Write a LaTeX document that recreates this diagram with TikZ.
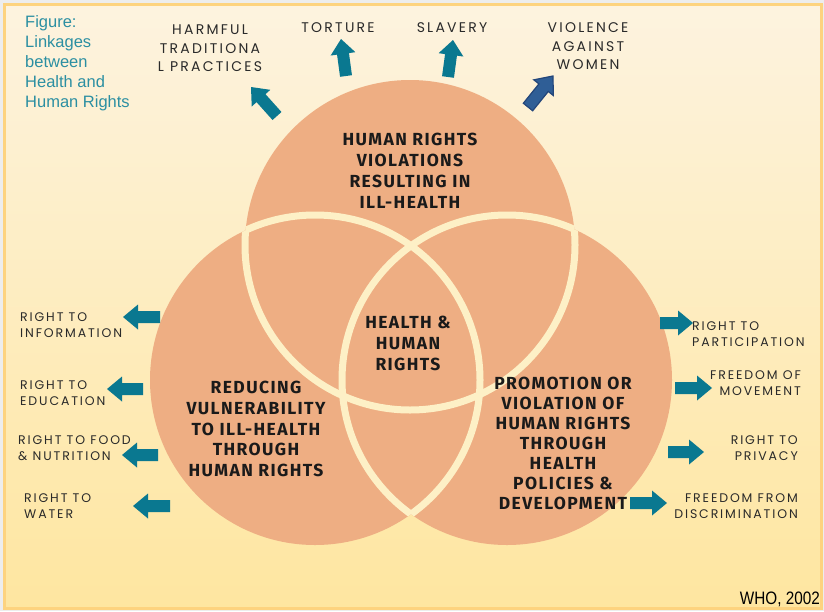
\documentclass[tikz,border=0pt]{standalone}
\usepackage{fontspec}
\setmainfont{Liberation Sans}
\newfontfamily\labelfont[LetterSpace=15]{Poppins}
\newfontfamily\toplabelfont[LetterSpace=16]{Poppins}
\newfontfamily\headfont[LetterSpace=8]{Fira Sans}
\newfontfamily\titlefont{Liberation Sans}
\newfontfamily\whofont[FakeStretch=0.85]{Liberation Sans}
\usetikzlibrary{calc}

\definecolor{pagegray}{HTML}{EDEDED}
\definecolor{panelborder}{HTML}{FDD37F}
\definecolor{paneltop}{HTML}{FDF3DF}
\definecolor{panelbottom}{HTML}{FEE6A0}
\definecolor{circlefill}{HTML}{EEAE83}
\definecolor{ringcream}{HTML}{FDF0C6}
\definecolor{arrowteal}{HTML}{0A7890}
\definecolor{arrowblue}{HTML}{2F5E96}
\definecolor{arrowblueedge}{HTML}{23467A}
\definecolor{titleteal}{HTML}{2B8FA2}
\definecolor{labelink}{HTML}{2A2A2A}
\definecolor{headink}{HTML}{1A1A1A}

% block arrow from a tail coordinate to a tip coordinate
\newcommand\blockarrow[3]{%
  \coordinate (hb) at ($(#3)!15pt!(#2)$);
  \path[#1] ($(#2)!6pt!90:(#3)$) -- ($(hb)!6pt!90:(#3)$) -- ($(hb)!12.5pt!90:(#3)$)
    -- (#3) -- ($(hb)!12.5pt!-90:(#3)$) -- ($(hb)!6pt!-90:(#3)$) -- ($(#2)!6pt!-90:(#3)$) -- cycle;
}

\tikzset{
  venn/.style={fill=circlefill},
  ring/.style={draw=ringcream, line width=7pt},
  headtext/.style={align=center, text=headink, inner sep=0pt,
    font=\headfont\bfseries\fontsize{17.5}{21}\selectfont},
  toplabel/.style={align=center, text=labelink, inner sep=0pt,
    font=\toplabelfont\fontsize{14}{18.5}\selectfont},
  sidelabel/.style={text=labelink, inner sep=0pt,
    font=\labelfont\fontsize{12.5}{16}\selectfont},
  tealarrow/.style={fill=arrowteal},
  bluearrow/.style={fill=arrowblue, draw=arrowblueedge, line width=1.2pt, line join=miter},
}

\begin{document}
\begin{tikzpicture}[x=1pt, y=-1pt]
  \useasboundingbox (0,0) rectangle (824,611);
  % page and panel
  \fill[pagegray] (0,0) rectangle (824,611);
  \shade[top color=paneltop, bottom color=panelbottom] (4.5,4.5) rectangle (821.5,608.5);
  \draw[panelborder, line width=3pt] (4.5,4.5) rectangle (821.5,608.5);

  % the three overlapping circles
  \coordinate (ctop) at (410,245);
  \coordinate (cleft) at (315,380);
  \coordinate (cright) at (507,380);
  \fill[venn] (ctop) circle[radius=165];
  \fill[venn] (cleft) circle[radius=165];
  \fill[venn] (cright) circle[radius=165];
  % each outline shows only where it runs over another circle
  \begin{scope}
    \clip (cleft) circle[radius=165] (cright) circle[radius=165];
    \draw[ring] (ctop) circle[radius=165];
  \end{scope}
  \begin{scope}
    \clip (ctop) circle[radius=165] (cright) circle[radius=165];
    \draw[ring] (cleft) circle[radius=165];
  \end{scope}
  \begin{scope}
    \clip (ctop) circle[radius=165] (cleft) circle[radius=165];
    \draw[ring] (cright) circle[radius=165];
  \end{scope}

  % circle texts
  \node[headtext] (violations) at (410,171) {HUMAN RIGHTS\\VIOLATIONS\\RESULTING IN\\ILL-HEALTH};
  \node[headtext] (core) at (408,343) {HEALTH \&\\HUMAN\\RIGHTS};
  \node[headtext, font=\headfont\bfseries\fontsize{17.5}{20.7}\selectfont] (reducing) at (256,429) {REDUCING\\VULNERABILITY\\TO ILL-HEALTH\\THROUGH\\HUMAN RIGHTS};
  \node[headtext, font=\headfont\bfseries\fontsize{17.5}{20}\selectfont] (promotion) at (563,443) {PROMOTION OR\\VIOLATION OF\\HUMAN RIGHTS\\THROUGH\\HEALTH\\POLICIES \&\\DEVELOPMENT};

  % title and source
  \node[anchor=north west, align=left, inner sep=0pt, text=titleteal,
        font=\titlefont\fontsize{16.5}{20.2}\selectfont] (title) at (25,15)
        {Figure:\\Linkages\\between\\Health and\\Human Rights};
  \node[anchor=east, inner sep=0pt, text=black, font=\whofont\fontsize{18}{20}\selectfont] (source) at (820,599) {WHO, 2002};

  % top labels
  \node[toplabel] (harmful) at (210,48.5) {HARMFUL\\TRADITIONA\\L PRACTICES};
  \node[toplabel] (torture) at (338,28) {TORTURE};
  \node[toplabel] (slavery) at (452,28) {SLAVERY};
  \node[toplabel] (violence) at (588,46.5) {VIOLENCE\\AGAINST\\WOMEN};

  % left labels
  \node[sidelabel, anchor=west, align=left] (info) at (20,325) {RIGHT TO\\INFORMATION};
  \node[sidelabel, anchor=west, align=left] (edu) at (20,393) {RIGHT TO\\EDUCATION};
  \node[sidelabel, anchor=west, align=left] (food) at (18,448) {RIGHT TO FOOD\\\& NUTRITION};
  \node[sidelabel, anchor=west, align=left] (water) at (24,506) {RIGHT TO\\WATER};

  % right labels
  \node[sidelabel, anchor=west, align=left] (particip) at (692,334) {RIGHT TO\\PARTICIPATION};
  \node[sidelabel, anchor=east, align=right] (movement) at (801,383) {FREEDOM OF\\MOVEMENT};
  \node[sidelabel, anchor=east, align=right] (privacy) at (798,448) {RIGHT TO\\PRIVACY};
  \node[sidelabel, anchor=east, align=right] (discrim) at (798,506) {FREEDOM FROM\\DISCRIMINATION};

  % arrow end points
  \coordinate (harmfulTail) at (277,116);  \coordinate (harmfulTip) at (251,87);
  \coordinate (tortureTail) at (346,76);   \coordinate (tortureTip) at (341,39);
  \coordinate (slaveryTail) at (448,77);   \coordinate (slaveryTip) at (453,40);
  \coordinate (violenceTail) at (528,107); \coordinate (violenceTip) at (553,76);
  \coordinate (infoTail) at (160,317);     \coordinate (infoTip) at (123,317);
  \coordinate (eduTail) at (143,389);      \coordinate (eduTip) at (107,389);
  \coordinate (foodTail) at (158,455);     \coordinate (foodTip) at (122,455);
  \coordinate (waterTail) at (170,506);    \coordinate (waterTip) at (133,506);
  \coordinate (participTail) at (660,323); \coordinate (participTip) at (693,323);
  \coordinate (movementTail) at (675,388); \coordinate (movementTip) at (712,388);
  \coordinate (privacyTail) at (668,452);  \coordinate (privacyTip) at (704,452);
  \coordinate (discrimTail) at (630,503);  \coordinate (discrimTip) at (667,503);

  % arrows
  \blockarrow{tealarrow}{harmfulTail}{harmfulTip}
  \blockarrow{tealarrow}{tortureTail}{tortureTip}
  \blockarrow{tealarrow}{slaveryTail}{slaveryTip}
  \blockarrow{bluearrow}{violenceTail}{violenceTip}
  \blockarrow{tealarrow}{infoTail}{infoTip}
  \blockarrow{tealarrow}{eduTail}{eduTip}
  \blockarrow{tealarrow}{foodTail}{foodTip}
  \blockarrow{tealarrow}{waterTail}{waterTip}
  \blockarrow{tealarrow}{participTail}{participTip}
  \blockarrow{tealarrow}{movementTail}{movementTip}
  \blockarrow{tealarrow}{privacyTail}{privacyTip}
  \blockarrow{tealarrow}{discrimTail}{discrimTip}
\end{tikzpicture}
\end{document}
